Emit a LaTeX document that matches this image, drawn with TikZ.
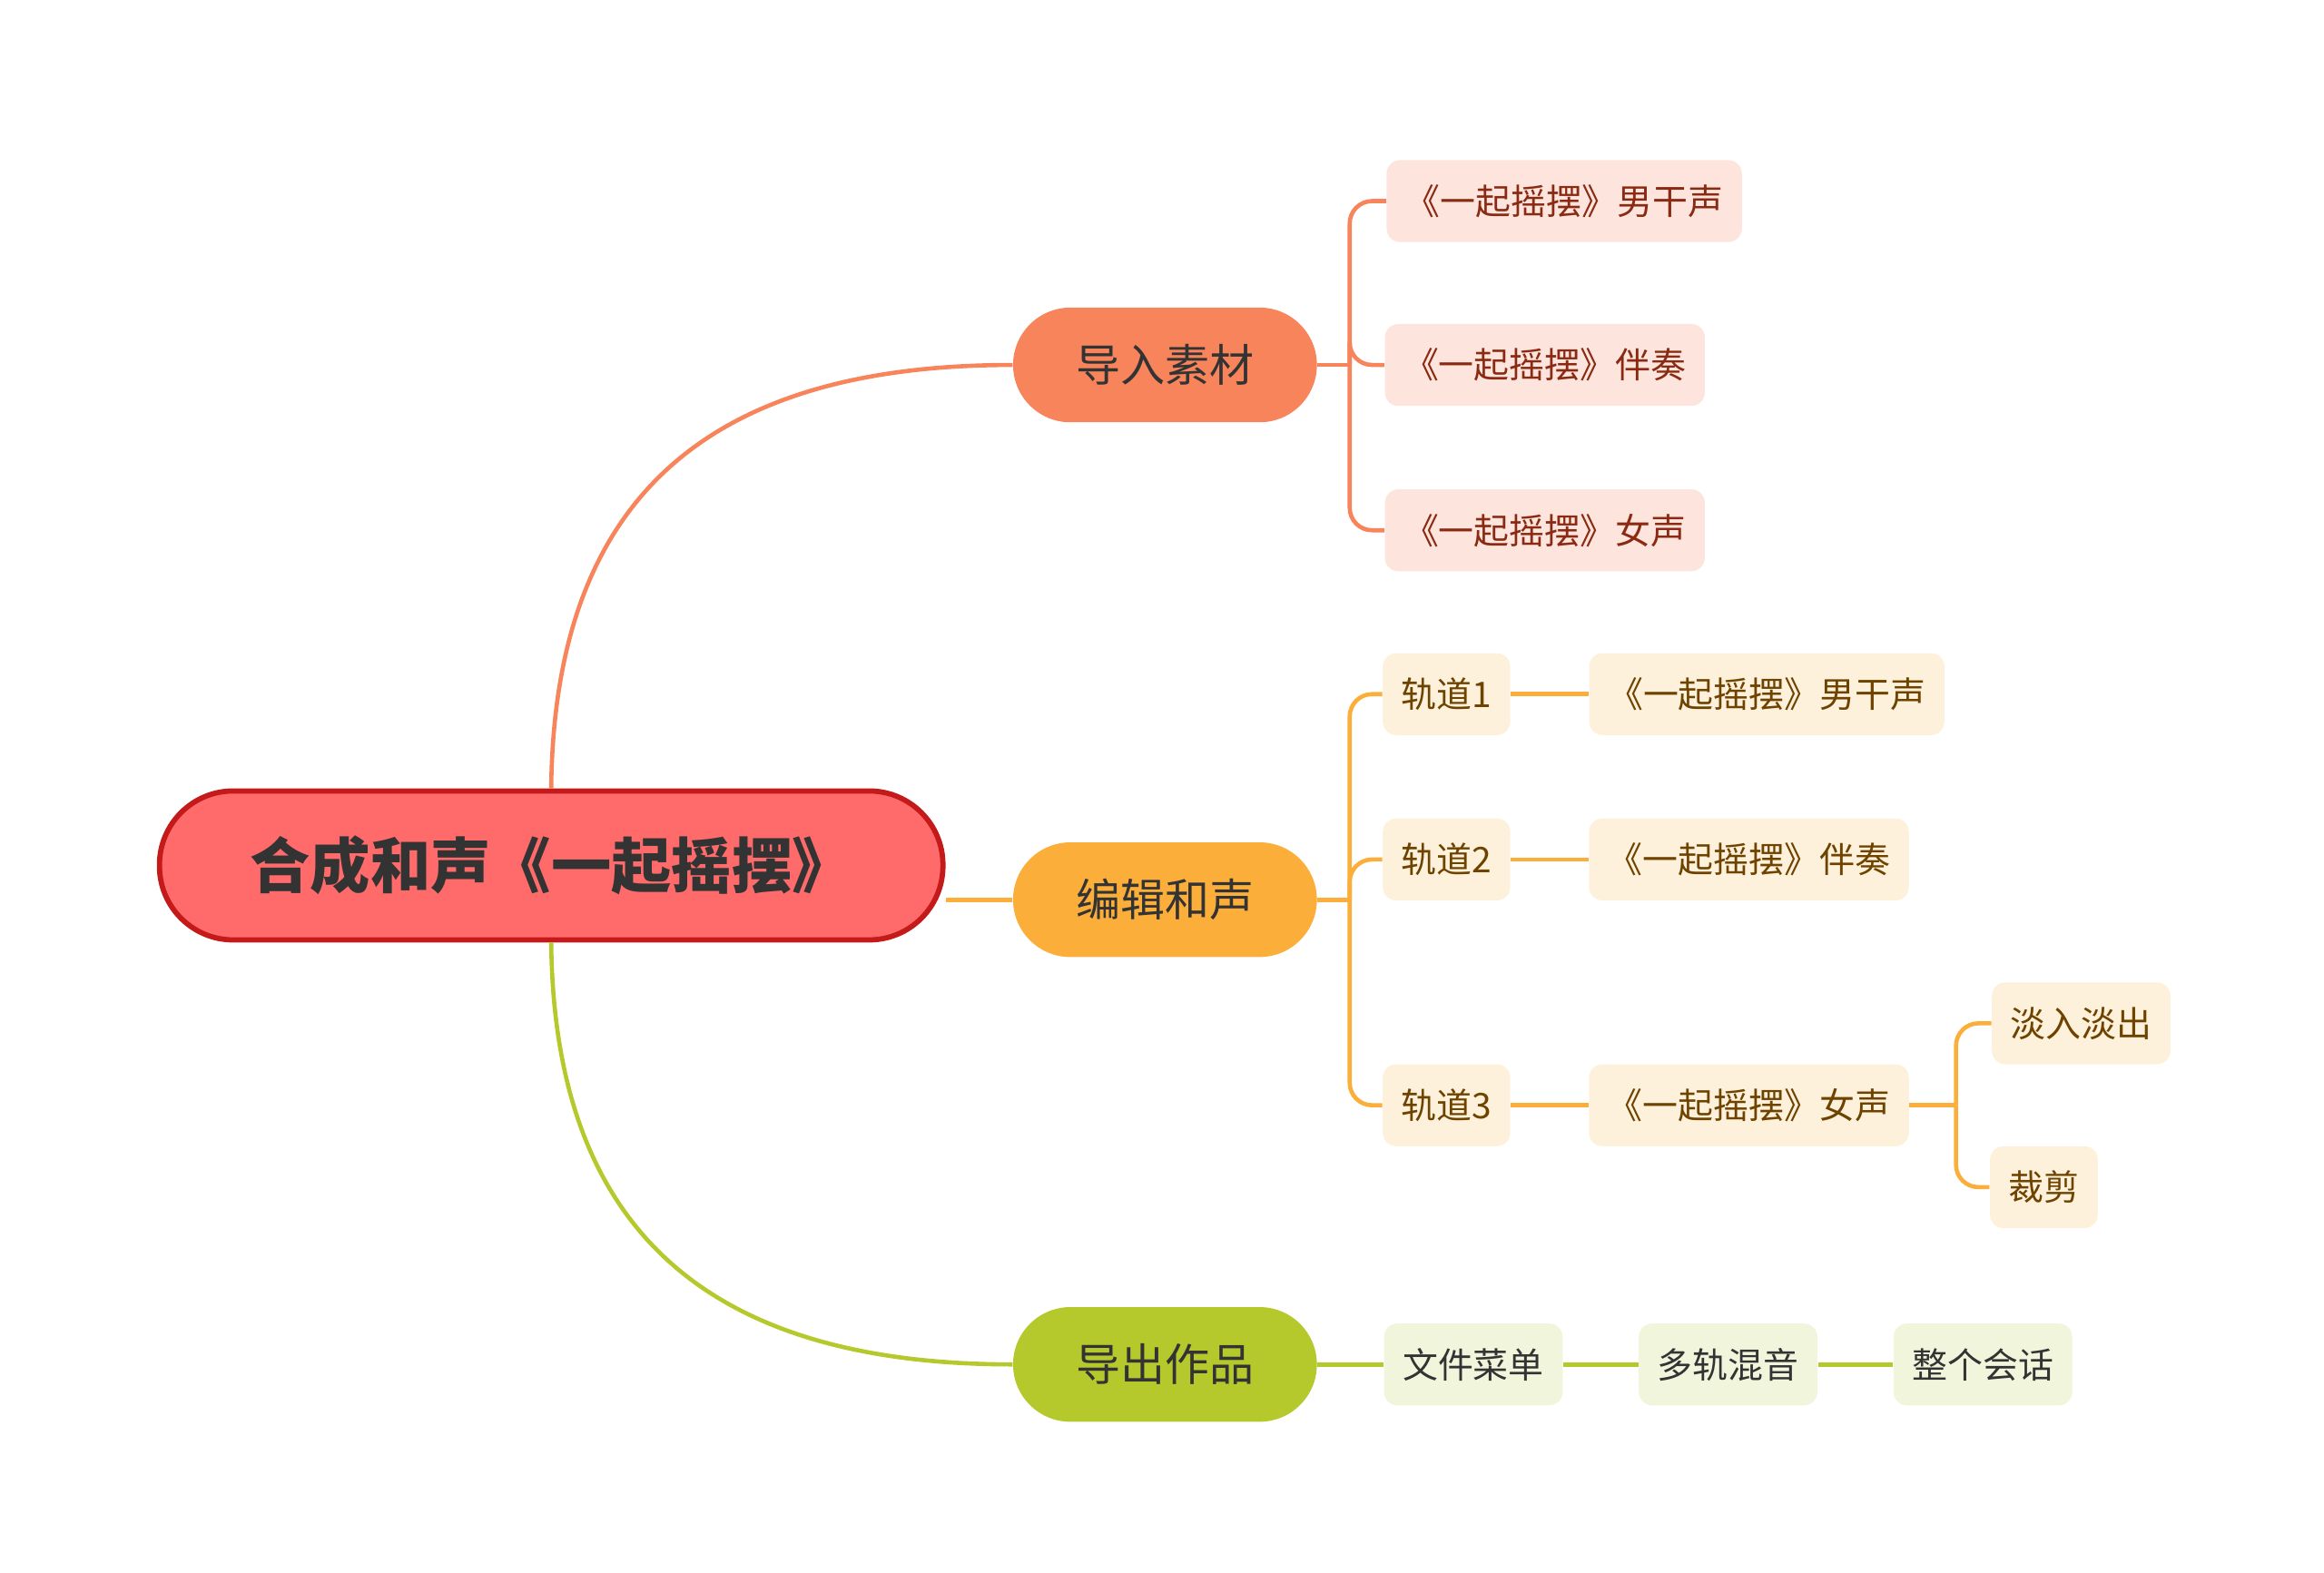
\documentclass[tikz,border=0pt]{standalone}
\usepackage{fontspec}
\setmainfont{Noto Sans CJK SC}
\usetikzlibrary{positioning}
\definecolor{rootfill}{HTML}{FF6B6B}
\definecolor{rootline}{HTML}{C41A1A}
\definecolor{orgA}{HTML}{F7845A}
\definecolor{orgL}{HTML}{FDE5DE}
\definecolor{orgT}{HTML}{8A2A12}
\definecolor{yelA}{HTML}{FBAE3A}
\definecolor{yelL}{HTML}{FEF1DC}
\definecolor{yelT}{HTML}{6E4300}
\definecolor{grnA}{HTML}{B6C92C}
\definecolor{grnL}{HTML}{F1F5DC}
\definecolor{txt}{HTML}{333333}
\tikzset{
  rootbox/.style={draw=rootline, line width=2pt, fill=rootfill, rounded corners=0.99cm,
    minimum width=10.52cm, minimum height=2cm, font=\fontsize{23}{26}\selectfont\bfseries, text=txt},
  mainbox/.style={rounded corners=0.77cm, minimum width=4.08cm, minimum height=1.54cm,
    font=\fontsize{17}{20}\selectfont, text=txt},
  leafbox/.style={rounded corners=0.18cm, minimum height=1.1cm, inner xsep=0.25cm,
    font=\fontsize{13.5}{16}\selectfont},
  orgleaf/.style={leafbox, fill=orgL, text=orgT},
  yelleaf/.style={leafbox, fill=yelL, text=yelT},
  grnleaf/.style={leafbox, fill=grnL, text=txt},
  link/.style={line width=1.6pt},
  fork/.style={link, rounded corners=0.3cm},
}
\begin{document}
\begin{tikzpicture}[x=0.02cm, y=-0.02cm]
\useasboundingbox (0,0) rectangle (1560,1056);
% main nodes
\node[rootbox] (root) at (370,581) {合成和声《一起摇摆》};
\node[mainbox, fill=orgA] (import) at (782,245) {导入素材};
\node[mainbox, fill=yelA] (edit) at (782,604) {编辑和声};
\node[mainbox, fill=grnA] (export) at (782,916) {导出作品};
% import leaves
\node[orgleaf] (im1) at (1050,135) {《一起摇摆》男干声};
\node[orgleaf] (im2) at (1037,245) {《一起摇摆》伴奏};
\node[orgleaf] (im3) at (1037,356) {《一起摇摆》女声};
% edit leaves
\node[yelleaf] (tr1) at (971,466) {轨道1};
\node[yelleaf] (tr2) at (971,577) {轨道2};
\node[yelleaf] (tr3) at (971,742) {轨道3};
\node[yelleaf] (tk1) at (1186,466) {《一起摇摆》男干声};
\node[yelleaf] (tk2) at (1174,577) {《一起摇摆》伴奏};
\node[yelleaf] (tk3) at (1174,742) {《一起摇摆》女声};
\node[yelleaf] (fade) at (1397,687) {淡入淡出};
\node[yelleaf] (cut) at (1372,797) {裁剪};
% export leaves
\node[grnleaf] (ex1) at (989,916) {文件菜单};
\node[grnleaf] (ex2) at (1160,916) {多轨混音};
\node[grnleaf] (ex3) at (1331,916) {整个会话};
% root links
\draw[link, orgA] (root.north) .. controls (372,330) and (480,245) .. (import.west);
\draw[link, yelA] (root.east |- edit.west) -- (edit.west);
\draw[link, grnA] (root.south) .. controls (372,830) and (480,916) .. (export.west);
% import fork
\draw[link, orgA] (import.east) -- (906,245);
\foreach \n in {im1,im2,im3}
  \draw[fork, orgA] (906,245) -- (906,245 |- \n.west) -- (\n.west);
% edit fork
\draw[link, yelA] (edit.east) -- (906,604);
\foreach \n in {tr1,tr2,tr3}
  \draw[fork, yelA] (906,604) -- (906,604 |- \n.west) -- (\n.west);
\draw[link, yelA] (tr1) -- (tk1);
\draw[link, yelA] (tr2) -- (tk2);
\draw[link, yelA] (tr3) -- (tk3);
\draw[link, yelA] (tk3.east) -- (1313,742);
\foreach \n in {fade,cut}
  \draw[fork, yelA] (1313,742) -- (1313,742 |- \n.west) -- (\n.west);
% export chain
\draw[link, grnA] (export) -- (ex1);
\draw[link, grnA] (ex1) -- (ex2);
\draw[link, grnA] (ex2) -- (ex3);
\end{tikzpicture}
\end{document}
